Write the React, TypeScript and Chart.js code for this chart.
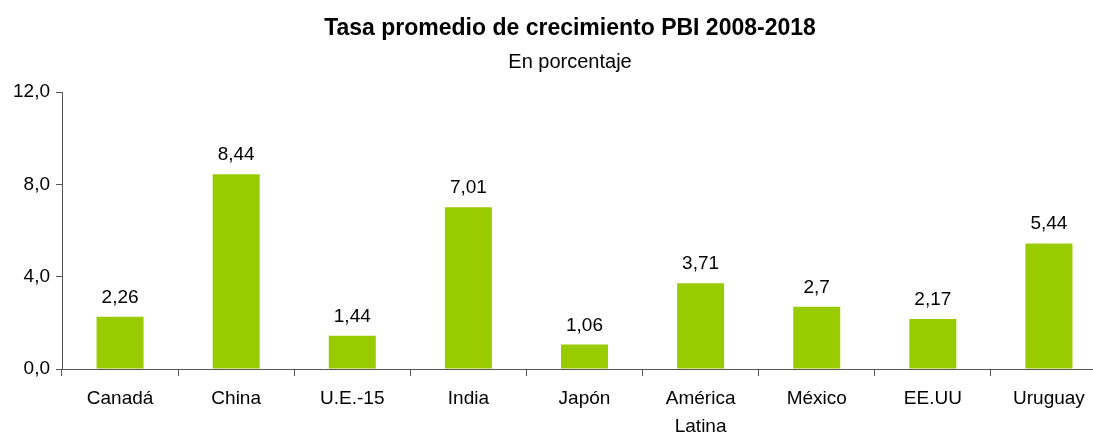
import React, { useEffect, useRef } from "react";
import { Chart, registerables } from "chart.js";

Chart.register(...registerables);

const categories: (string | string[])[] = [
  "Canadá",
  "China",
  "U.E.-15",
  "India",
  "Japón",
  ["América", "Latina"],
  "México",
  "EE.UU",
  "Uruguay",
];
const growthValues: number[] = [2.26, 8.44, 1.44, 7.01, 1.06, 3.71, 2.7, 2.17, 5.44];
const yTickValues: number[] = [0, 4, 8, 12];

const FONT = "'Liberation Sans', Arial, sans-serif";
const BAR_COLOR = "#99CC00";
const AXIS_COLOR = "#555555";

const fmt = (v: number, fixed?: number) =>
  (fixed !== undefined ? v.toFixed(fixed) : String(v)).replace(".", ",");

const valueLabels = {
  id: "valueLabels",
  afterDatasetsDraw(chart: any) {
    const ctx = chart.ctx;
    const meta = chart.getDatasetMeta(0);
    ctx.save();
    ctx.font = `19px ${FONT}`;
    ctx.fillStyle = "#000";
    ctx.textAlign = "center";
    ctx.textBaseline = "alphabetic";
    meta.data.forEach((el: any, i: number) => {
      ctx.fillText(fmt(growthValues[i]), el.x, el.y - 14);
    });
    ctx.restore();
  },
};

export default function App() {
  const ref = useRef<HTMLCanvasElement | null>(null);

  useEffect(() => {
    if (!ref.current) return;
    Chart.defaults.font.family = FONT;
    const chart = new Chart(ref.current, {
      type: "bar",
      data: {
        labels: categories,
        datasets: [
          {
            data: growthValues,
            backgroundColor: BAR_COLOR,
            borderWidth: 0,
            categoryPercentage: 1,
            barPercentage: 0.405,
          },
        ],
      },
      options: {
        responsive: false,
        animation: false,
        layout: { padding: 0 },
        plugins: {
          legend: { display: false },
          tooltip: { enabled: false },
          title: {
            display: true,
            text: "Tasa promedio de crecimiento PBI 2008-2018",
            color: "#000",
            font: { size: 23, weight: "bold", family: FONT },
            padding: { top: 15, bottom: 0 },
          },
          subtitle: {
            display: true,
            text: "En porcentaje",
            color: "#000",
            font: { size: 20, family: FONT },
            padding: { top: 8, bottom: 17.4 },
          },
        },
        scales: {
          x: {
            offset: true,
            grid: {
              offset: true,
              drawOnChartArea: false,
              drawTicks: true,
              tickLength: 7,
              color: AXIS_COLOR,
            },
            border: { display: true, color: AXIS_COLOR, width: 1 },
            ticks: {
              color: "#000",
              font: { size: 19, family: FONT, lineHeight: 1.47 },
              padding: 9,
              maxRotation: 0,
              autoSkip: false,
            },
            afterFit: (scale: any) => {
              scale.height = 76;
            },
          },
          y: {
            min: 0,
            max: 12,
            afterBuildTicks: (scale: any) => {
              scale.ticks = yTickValues.map((v) => ({ value: v }));
            },
            grid: {
              drawOnChartArea: false,
              drawTicks: true,
              tickLength: 6,
              color: AXIS_COLOR,
            },
            border: { display: true, color: AXIS_COLOR, width: 1 },
            ticks: {
              color: "#000",
              font: { size: 19, family: FONT },
              padding: 6,
              callback: (v: any) => fmt(Number(v), 1),
            },
            afterFit: (scale: any) => {
              scale.width = 62;
            },
          },
          spacer: {
            type: "linear",
            position: "right",
            display: true,
            grid: { display: false },
            border: { display: false },
            ticks: { display: false },
            afterFit: (scale: any) => {
              scale.width = 33;
            },
          },
        },
      },
      plugins: [valueLabels],
    });
    return () => chart.destroy();
  }, []);

  return (
    <div
      style={{
        position: "absolute",
        left: 0,
        top: 0,
        width: 1093,
        height: 432,
        overflow: "hidden",
        background: "#fff",
      }}
    >
      <canvas ref={ref} width={1140} height={445} style={{ width: 1140, height: 445, display: "block" }} />
    </div>
  );
}
